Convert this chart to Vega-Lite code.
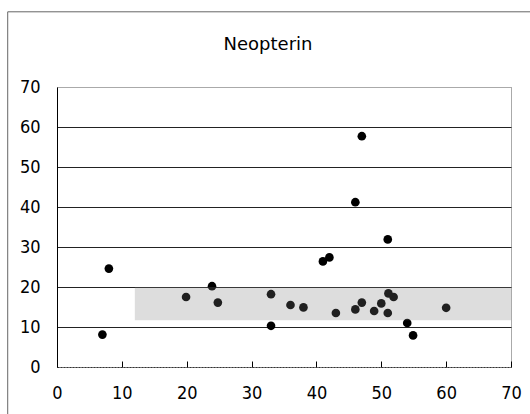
{
  "$schema": "https://vega.github.io/schema/vega-lite/v6.json",
  "width": 454,
  "height": 280,
  "autosize": "none",
  "padding": {"left": 57, "top": 87, "right": 19, "bottom": 47},
  "background": "white",
  "title": {
    "text": "Neopterin",
    "font": "DejaVu Sans",
    "fontSize": 18,
    "fontWeight": "normal",
    "color": "black",
    "anchor": "middle",
    "dx": -16,
    "offset": -43
  },
  "config": {
    "view": {"stroke": "#555", "strokeDash": [1, 1], "strokeWidth": 1},
    "axis": {
      "labelFont": "DejaVu Sans Condensed, Liberation Sans Narrow, Liberation Sans",
      "labelFontSize": 18,
      "labelColor": "black",
      "labelOverlap": false,
      "labelFlush": false,
      "title": null
    },
    "axisX": {
      "tickCount": 7,
      "grid": false,
      "domainColor": "#333",
      "domainDash": [2, 1],
      "tickColor": "black",
      "tickSize": -6,
      "labelPadding": 23
    },
    "axisY": {
      "tickCount": 7,
      "grid": true,
      "gridColor": {"condition": {"test": "datum.value === 0 || datum.value === 70", "value": "transparent"}, "value": "#222"},
      "gridWidth": 1,
      "domainColor": "black",
      "ticks": false,
      "labelPadding": 17
    }
  },
  "datasets": {
    "pts": [
      {"age": 7.0, "neopterin": 8.1},
      {"age": 8.0, "neopterin": 24.6},
      {"age": 19.9, "neopterin": 17.5},
      {"age": 23.9, "neopterin": 20.2},
      {"age": 24.8, "neopterin": 16.1},
      {"age": 33.0, "neopterin": 18.2},
      {"age": 33.0, "neopterin": 10.3},
      {"age": 36.0, "neopterin": 15.5},
      {"age": 38.0, "neopterin": 14.9},
      {"age": 41.0, "neopterin": 26.4},
      {"age": 42.0, "neopterin": 27.4},
      {"age": 43.0, "neopterin": 13.5},
      {"age": 46.0, "neopterin": 41.2},
      {"age": 46.0, "neopterin": 14.4},
      {"age": 47.0, "neopterin": 16.1},
      {"age": 47.0, "neopterin": 57.7},
      {"age": 48.9, "neopterin": 14.0},
      {"age": 50.0, "neopterin": 15.9},
      {"age": 51.0, "neopterin": 31.9},
      {"age": 51.1, "neopterin": 18.4},
      {"age": 51.9, "neopterin": 17.5},
      {"age": 51.0, "neopterin": 13.5},
      {"age": 54.0, "neopterin": 11.0},
      {"age": 54.9, "neopterin": 7.9},
      {"age": 60.0, "neopterin": 14.8}
    ],
    "band": [
      {"x1": 12, "x2": 70, "y1": 11.7, "y2": 20}
    ]
  },
  "layer": [
    {
      "data": {"name": "pts"},
      "mark": {"type": "point", "filled": true, "shape": "circle", "size": 75, "color": "black", "opacity": 1},
      "encoding": {
        "x": {
          "field": "age", "type": "quantitative",
          "scale": {"domain": [0, 70], "nice": false, "zero": false}
        },
        "y": {
          "field": "neopterin", "type": "quantitative",
          "scale": {"domain": [0, 70], "nice": false, "zero": false}
        }
      }
    },
    {
      "data": {"name": "band"},
      "mark": {"type": "rect", "fill": "#7a7a7a", "opacity": 0.26},
      "encoding": {
        "x": {"field": "x1", "type": "quantitative"},
        "x2": {"field": "x2"},
        "y": {"field": "y1", "type": "quantitative"},
        "y2": {"field": "y2"}
      }
    },
    {
      "data": {"values": [{}]},
      "mark": {"type": "rule", "color": "#666", "strokeWidth": 1, "clip": false},
      "encoding": {
        "x": {"datum": -7.6, "type": "quantitative"},
        "y": {"datum": -15, "type": "quantitative"},
        "y2": {"datum": 88.8}
      }
    },
    {
      "data": {"values": [{}]},
      "mark": {"type": "rule", "color": "#666", "strokeWidth": 1, "clip": false},
      "encoding": {
        "x": {"datum": -7.6, "type": "quantitative"},
        "x2": {"datum": 80},
        "y": {"datum": 88.8, "type": "quantitative"}
      }
    }
  ]
}
